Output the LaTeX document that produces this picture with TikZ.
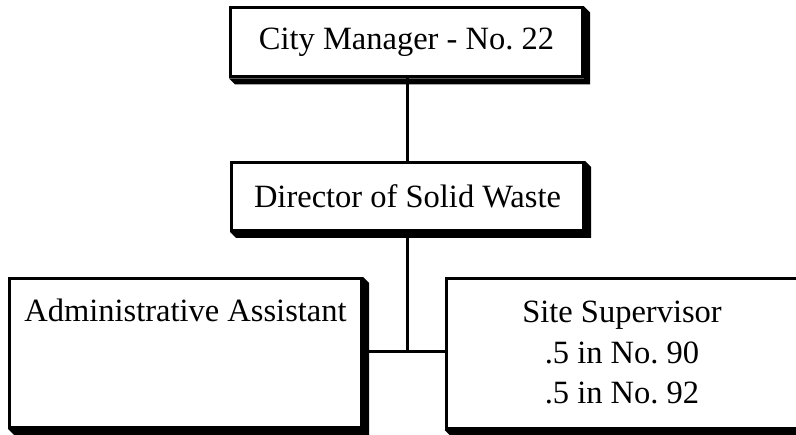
\documentclass[tikz,border=0pt]{standalone}
\usepackage{fontspec}
\setmainfont{Liberation Serif}
\usetikzlibrary{calc}
\frenchspacing

\tikzset{
  orgbox/.style={draw, line width=3pt, fill=white, minimum width=352pt, inner sep=0pt},
  orgtext/.style={font=\fontsize{32.5}{40.5}\selectfont, align=center, inner sep=0pt},
  link/.style={line width=3pt},
  shadowfill/.style={fill=black}
}

% Chamfered drop shadow to the lower right of a box
\newcommand{\boxshadow}[1]{%
  \fill[shadowfill] (#1.south west) -- ++(6pt,-6pt) -- ($(#1.south east)+(6pt,-6pt)$)
    -- ($(#1.north east)+(6pt,-6pt)$) -- (#1.north east) -- (#1.south east) -- cycle;}

\begin{document}
\begin{tikzpicture}[x=1pt,y=1pt]
  \useasboundingbox (0,0) rectangle (796,435);

  % boxes
  \node[orgbox, minimum height=69pt] (mgr) at (406.5,392.5) {};
  \node[orgbox, minimum height=68pt] (dir) at (407.5,238.5) {};
  \node[orgbox, minimum height=149pt] (asst) at (185.5,82) {};
  \node[orgbox, minimum height=150pt] (site) at (622,81.5) {};

  \boxshadow{mgr}
  \boxshadow{dir}
  \boxshadow{asst}
  \boxshadow{site}

  % texts
  \node[orgtext] (mgrt) at (mgr.center) {City Manager - No. 22};
  \node[orgtext] (dirt) at (dir.center) {Director of Solid Waste};
  \node[orgtext, anchor=base] (asstt) at (185.5,113) {Administrative Assistant};
  \node[orgtext, anchor=base] (sitet) at (622,31) {Site Supervisor\\.5 in No. 90\\.5 in No. 92};

  % connectors
  \coordinate (junction) at (407.5,83);
  \draw[link] (mgr.south -| junction) -- (dir.north -| junction);
  \draw[link] (dir.south -| junction) -- (junction);
  \draw[link] (asst.east |- junction) -- (site.west |- junction);
\end{tikzpicture}
\end{document}
